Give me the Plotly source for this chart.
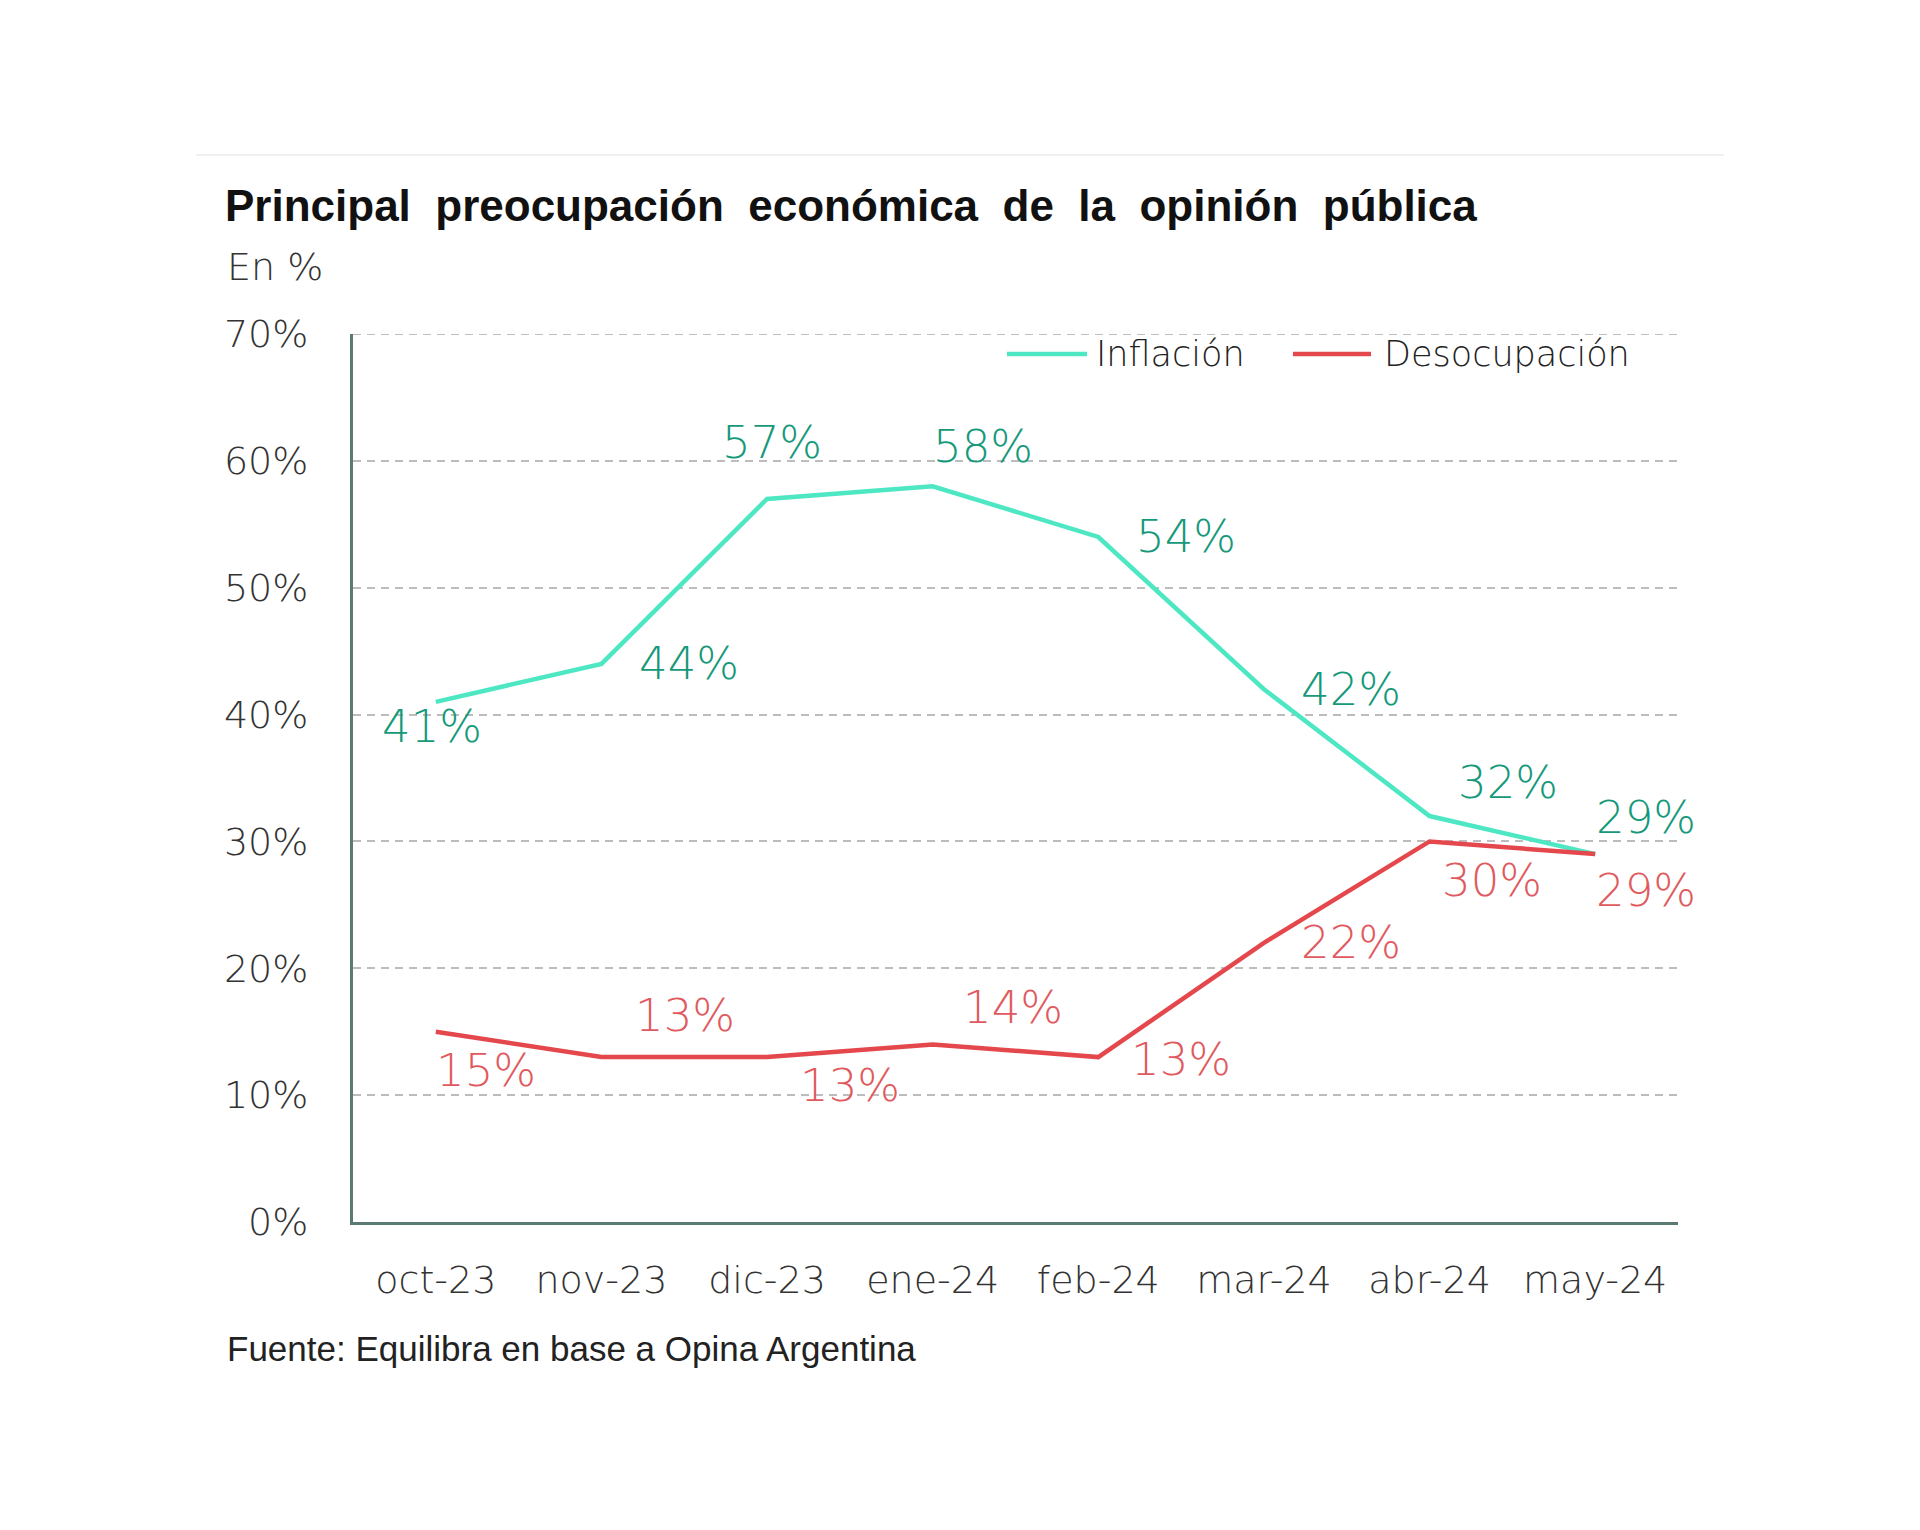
import plotly.graph_objects as go

meses = ["oct-23", "nov-23", "dic-23", "ene-24", "feb-24", "mar-24", "abr-24", "may-24"]
inflacion = [41, 44, 57, 58, 54, 42, 32, 29]
desocupacion = [15, 13, 13, 14, 13, 22, 30, 29]

titulo = "Principal  preocupación  económica  de  la  opinión  pública"
subtitulo = "En %"
fuente = "Fuente: Equilibra en base a Opina Argentina"

# label offsets (px) relative to each point
infl_off = [(-4, -25), (88, 0), (5, 56), (50, 40), (88, 0), (87, 0), (78, 34), (51, 37)]
deso_off = [(50, -39), (84, 42), (83, -28), (80, 37), (83, -2), (87, 0), (62, -39), (51, -36)]

C_INF = "#4de8c3"
C_INF_T = "#15997a"
C_DES = "#e4474c"
C_DES_T = "#df5a5e"
FONT = "DejaVu Sans"
OFF = 8  # page body margin

fig = go.Figure()
fig.add_trace(go.Scatter(x=meses, y=inflacion, mode="lines", name="Inflación",
                         line=dict(color=C_INF, width=4.5), showlegend=False))
fig.add_trace(go.Scatter(x=meses, y=desocupacion, mode="lines", name="Desocupación",
                         line=dict(color=C_DES, width=4.5), showlegend=False))

ann = []
for m, v, (dx, dy) in zip(meses, inflacion, infl_off):
    ann.append(dict(x=m, y=v, xref="x", yref="y", text=f"{v}%", showarrow=False,
                    xshift=dx, yshift=dy, font=dict(family=FONT, size=45, color=C_INF_T, weight=300)))
for m, v, (dx, dy) in zip(meses, desocupacion, deso_off):
    ann.append(dict(x=m, y=v, xref="x", yref="y", text=f"{v}%", showarrow=False,
                    xshift=dx, yshift=dy, font=dict(family=FONT, size=45, color=C_DES_T, weight=300)))

L, R, T, B = 353 - OFF, 1678 - OFF, 334 - OFF, 1222 - OFF
W = R - L
H = B - T
def px(x):
    return (x - OFF - L) / W
def py(y):
    return (B - (y - OFF)) / H

ann.append(dict(x=px(225), y=py(267), xref="paper", yref="paper", text=subtitulo, showarrow=False,
                xanchor="left", yanchor="middle", font=dict(family=FONT, size=38, color="#333", weight=300)))
ann.append(dict(x=px(225), y=py(1348), xref="paper", yref="paper", text=fuente, showarrow=False,
                xanchor="left", yanchor="middle", font=dict(family="Liberation Sans", size=35, color="#222")))
# legend
ann.append(dict(x=px(1094), y=py(354), xref="paper", yref="paper", text="Inflación", showarrow=False,
                xanchor="left", yanchor="middle", font=dict(family=FONT, size=35, color="#222", weight=300)))
ann.append(dict(x=px(1382), y=py(354), xref="paper", yref="paper", text="Desocupación", showarrow=False,
                xanchor="left", yanchor="middle", font=dict(family=FONT, size=35, color="#222", weight=300)))

shapes = [
    dict(type="line", xref="paper", yref="paper", x0=px(1007), x1=px(1087), y0=py(354), y1=py(354),
         line=dict(color=C_INF, width=4.5)),
    dict(type="line", xref="paper", yref="paper", x0=px(1293), x1=px(1371), y0=py(354), y1=py(354),
         line=dict(color=C_DES, width=4.5)),
    dict(type="line", xref="paper", yref="paper", x0=px(196), x1=px(1724), y0=py(155), y1=py(155),
         line=dict(color="#f0f0f0", width=2)),
    dict(type="line", xref="paper", yref="y", x0=0, x1=1, y0=70, y1=70, layer="below",
         line=dict(color="#bdbdbd", width=2, dash="8px,6px")),
]

fig.update_layout(
    width=1920, height=1530,
    margin=dict(l=L, r=1920 - R, t=T, b=1530 - B),
    paper_bgcolor="white", plot_bgcolor="white",
    title=dict(text=f"<b>{titulo}</b>", xref="container", yref="container",
               x=(225 - OFF) / 1920, y=1 - (206 - OFF) / 1530, xanchor="left", yanchor="middle",
               font=dict(family="Liberation Sans", size=44, color="#111")),
    annotations=ann, shapes=shapes,
    xaxis=dict(type="category", range=[-0.5, 7.5], showgrid=False, showline=True,
               linecolor="#5b7a73", linewidth=3, ticks="", ticklabelstandoff=22,
               tickfont=dict(family=FONT, size=38, color="#333", weight=300)),
    yaxis=dict(range=[0, 70], dtick=10, ticksuffix="%", showgrid=True, gridcolor="#bdbdbd",
               gridwidth=2, griddash="8px,6px", zeroline=False, showline=True,
               linecolor="#5b7a73", linewidth=3, ticks="", ticklabelstandoff=34,
               tickfont=dict(family=FONT, size=38, color="#333", weight=300)),
)

fig.write_html("out.html")
